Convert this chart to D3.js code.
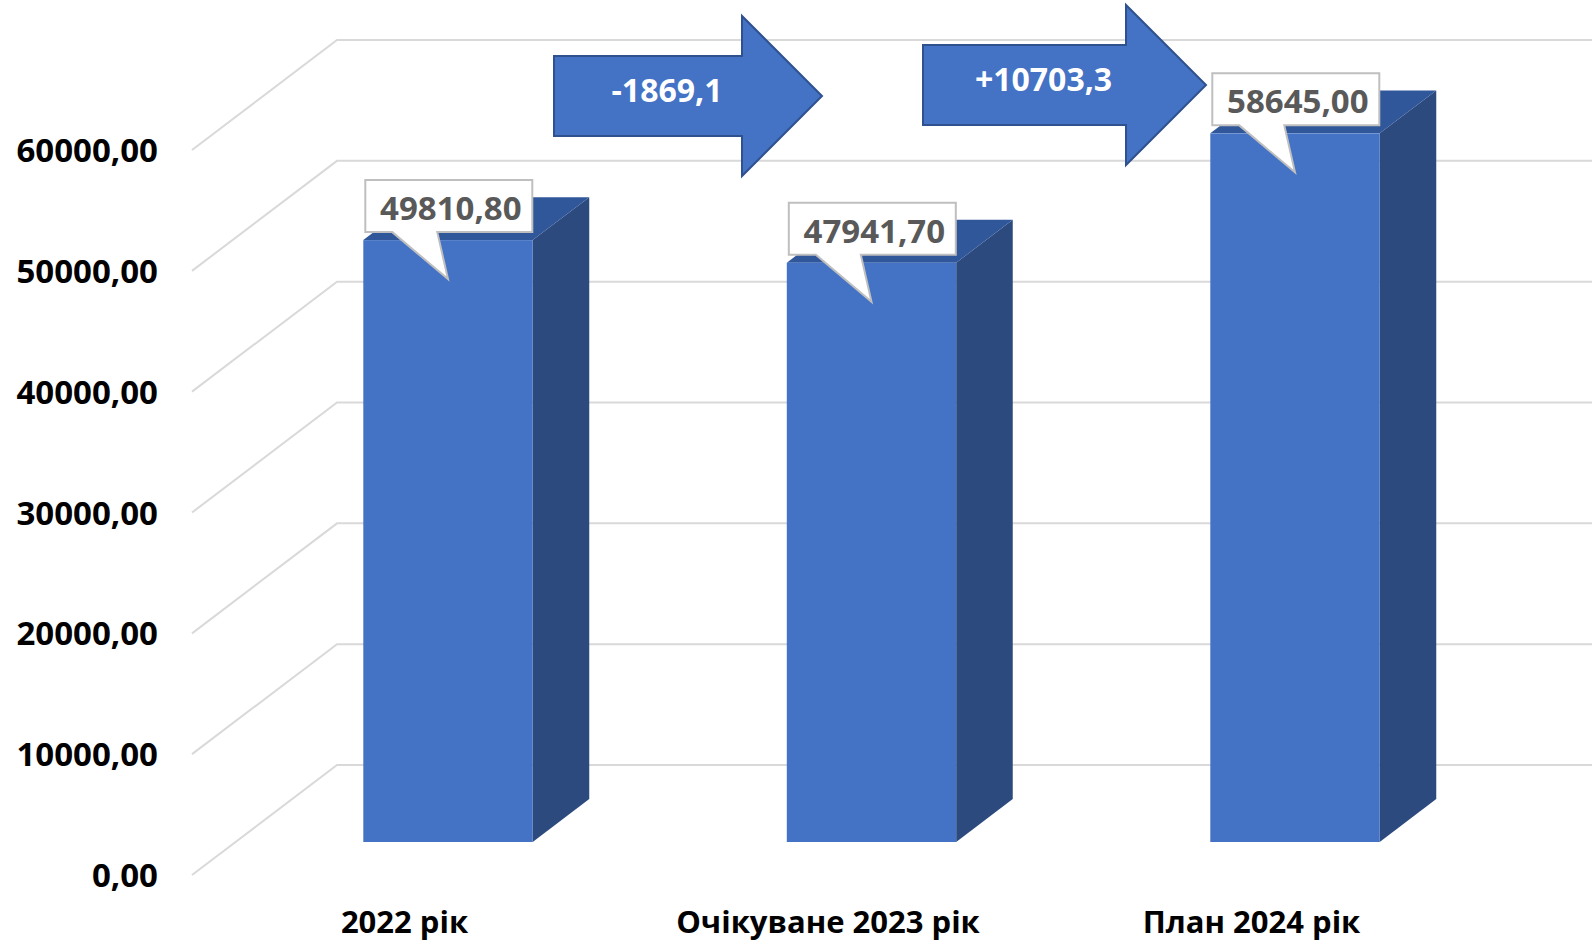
<!DOCTYPE html>
<meta charset="utf-8">
<head>
<script src="https://cdnjs.cloudflare.com/ajax/libs/d3/7.8.5/d3.min.js"></script>
<style type="text/css">
body {
  margin: 0;
  background: #fff;
  font-family: "Open Sans", sans-serif;
}
.grid {
  stroke: #d9d9d9;
  stroke-width: 2;
  fill: none;
}
.tick-label {
  font-weight: 700;
  font-size: 33px;
  fill: #000;
}
.cat-label {
  font-weight: 700;
  font-size: 31px;
  fill: #000;
}
.value-label {
  font-weight: 700;
  font-size: 33px;
  fill: #595959;
}
.arrow-label {
  font-weight: 700;
  font-size: 32px;
  fill: #fff;
}
</style>
</head>
<body>
<div id="chart"></div>
<script>

// data
var categories = ["2022 рік", "Очікуване 2023 рік", "План 2024 рік"];
var values = [49810.80, 47941.70, 58645.00];
var yTicks = [0, 10000, 20000, 30000, 40000, 50000, 60000];
var changeLabels = ["-1869,1", "+10703,3"];

// annotation arrows (hand placed, like in the original)
var arrowBoxes = [
  {x: 554, cy: 96, w: 268},
  {x: 923, cy: 85, w: 283}
];

var W = 1592, H = 945;
var depth = {dx: 145, dy: -110};   // offset from front plane to back wall
var barZ = [0.3, 0.69];            // bar depth span (0 = front, 1 = back)

var x = d3.scaleBand()
    .domain(categories)
    .range([192.75, 1463.25]);
var y = d3.scaleLinear()
    .domain([0, 60000])
    .range([875, 150]);

var loc = d3.formatLocale({decimal: ",", thousands: " ", grouping: [3], currency: ["", ""]});
var fmt = loc.format(".2f");

var svg = d3.select("#chart").append("svg")
    .attr("width", W)
    .attr("height", H);

// walls: gridline goes along left wall, then along the back wall
svg.selectAll(".grid")
    .data(yTicks)
    .enter().append("path")
    .attr("class", "grid")
    .attr("d", function(d) {
      var y0 = y(d);
      return "M192," + y0 + "L" + (192 + depth.dx) + "," + (y0 + depth.dy) + "H" + W;
    });

svg.selectAll(".tick-label")
    .data(yTicks)
    .enter().append("text")
    .attr("class", "tick-label")
    .attr("x", 158)
    .attr("y", function(d) { return y(d) + 12; })
    .attr("text-anchor", "end")
    .text(function(d) { return fmt(d); });

// bars
var barW = x.bandwidth() * 0.4;
var bdx = (barZ[1] - barZ[0]) * depth.dx,
    bdy = (barZ[1] - barZ[0]) * depth.dy;

function barGeom(d, i) {
  var L = x(categories[i]) + (x.bandwidth() - barW) / 2 + barZ[0] * depth.dx;
  var R = L + barW;
  var B = y(0) + barZ[0] * depth.dy;
  var T = y(d) + barZ[0] * depth.dy;
  return {L: L, R: R, B: B, T: T};
}

var bars = svg.selectAll(".bar")
    .data(values)
    .enter().append("g")
    .attr("class", "bar");

bars.append("path")
    .attr("fill", "#2c4a7e")
    .attr("d", function(d, i) {
      var g = barGeom(d, i);
      return "M" + g.R + "," + g.T + "L" + (g.R + bdx) + "," + (g.T + bdy) +
        "L" + (g.R + bdx) + "," + (g.B + bdy) + "L" + g.R + "," + g.B + "Z";
    });

bars.append("path")
    .attr("fill", "#31579b")
    .attr("d", function(d, i) {
      var g = barGeom(d, i);
      return "M" + g.L + "," + g.T + "L" + g.R + "," + g.T +
        "L" + (g.R + bdx) + "," + (g.T + bdy) + "L" + (g.L + bdx) + "," + (g.T + bdy) + "Z";
    });

bars.append("rect")
    .attr("fill", "#4472c4")
    .attr("x", function(d, i) { return barGeom(d, i).L; })
    .attr("y", function(d, i) { return barGeom(d, i).T; })
    .attr("width", barW)
    .attr("height", function(d, i) { var g = barGeom(d, i); return g.B - g.T; });

// value callouts
var calloutW = 167, calloutH = 52;
var callouts = svg.selectAll(".callout")
    .data(values)
    .enter().append("g")
    .attr("class", "callout");

callouts.append("path")
    .attr("fill", "#fff")
    .attr("stroke", "#bfbfbf")
    .attr("stroke-width", 2)
    .attr("d", function(d, i) {
      var g = barGeom(d, i);
      var l = g.L + 2, t = g.T - 8 - calloutH, b = g.T - 8, r = l + calloutW;
      var tipX = (g.L + g.R) / 2, tipY = g.T + 39;
      return "M" + l + "," + t + "H" + r + "V" + b + "H" + (l + 72) +
        "L" + tipX + "," + tipY + "L" + (l + 27) + "," + b + "H" + l + "Z";
    });

callouts.append("text")
    .attr("class", "value-label")
    .attr("text-anchor", "middle")
    .attr("x", function(d, i) { return barGeom(d, i).L + 2 + calloutW / 2 + 2; })
    .attr("y", function(d, i) { return barGeom(d, i).T - 8 - calloutH + 40; })
    .text(function(d) { return fmt(d); });

// category labels
svg.selectAll(".cat-label")
    .data(categories)
    .enter().append("text")
    .attr("class", "cat-label")
    .attr("text-anchor", "middle")
    .attr("x", function(d) { return x(d) + x.bandwidth() / 2; })
    .attr("y", 933)
    .text(function(d) { return d; });

// change arrows
var bodyH = 80, headH = 160, headL = 80;
var arrows = svg.selectAll(".arrow")
    .data(arrowBoxes)
    .enter().append("g")
    .attr("class", "arrow");

arrows.append("path")
    .attr("fill", "#4472c4")
    .attr("stroke", "#2f528f")
    .attr("stroke-width", 2)
    .attr("stroke-linejoin", "miter")
    .attr("d", function(a) {
      var xh = a.x + a.w - headL;
      return "M" + a.x + "," + (a.cy - bodyH / 2) + "H" + xh + "V" + (a.cy - headH / 2) +
        "L" + (a.x + a.w) + "," + a.cy + "L" + xh + "," + (a.cy + headH / 2) +
        "V" + (a.cy + bodyH / 2) + "H" + a.x + "Z";
    });

arrows.append("text")
    .attr("class", "arrow-label")
    .attr("text-anchor", "middle")
    .attr("x", function(a) { return (a.x + a.x + a.w - headL) / 2 + 19; })
    .attr("y", function(a) { return a.cy + 6; })
    .text(function(a, i) { return changeLabels[i]; });

</script>
</body>
